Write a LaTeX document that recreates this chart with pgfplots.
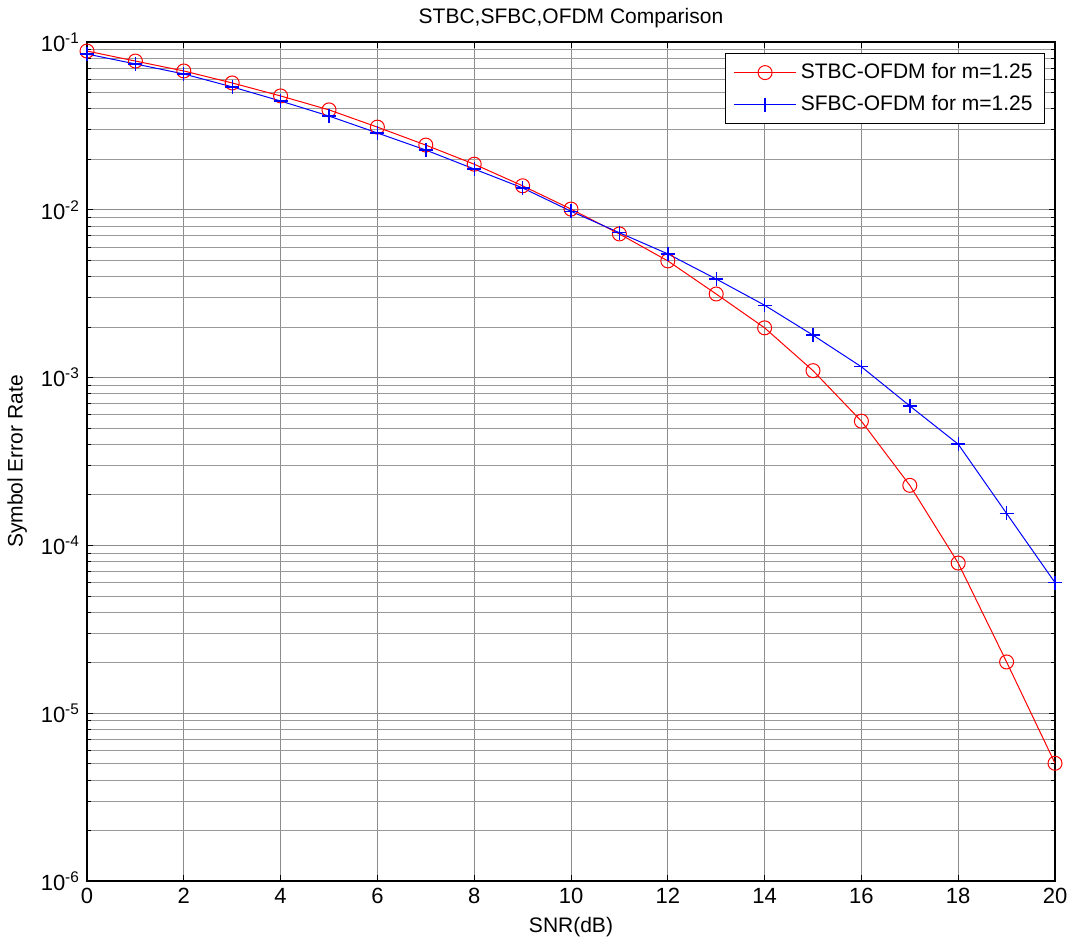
\documentclass[border=0pt]{standalone}
\usepackage{fontspec}
\setmainfont{Liberation Sans}
\usepackage{pgfplots}
\pgfplotsset{compat=1.18}
\begin{document}
\begin{tikzpicture}
\begin{axis}[
  scale only axis,
  width=484pt, height=419.5pt,
  xmin=0, xmax=20, ymin=1e-6, ymax=1e-1,
  ymode=log,
  xtick={0,2,...,20},
  minor x tick num=0,
  ytick={1e-6,1e-5,1e-4,1e-3,1e-2,1e-1},
  yticklabels={10\textsuperscript{-6},10\textsuperscript{-5},10\textsuperscript{-4},10\textsuperscript{-3},10\textsuperscript{-2},10\textsuperscript{-1}},
  /pgf/number format/assume math mode=true,
  tick label style={font=\fontsize{11}{12}\selectfont},
  label style={font=\fontsize{10.5}{12}\selectfont},
  title style={font=\fontsize{10.5}{12}\selectfont, yshift=-2.5pt},
  title={STBC,SFBC,OFDM Comparison},
  xlabel={SNR(dB)},
  ylabel={Symbol Error Rate},
  grid=both,
  major grid style={black!45, line width=0.4pt},
  minor grid style={black!40, line width=0.4pt},
  tick align=inside,
  major tick length=3pt,
  minor tick length=2pt,
  axis line style={black, line width=0.6pt},
  tick style={black, line width=0.4pt},
  legend style={at={(1,1)}, anchor=north east, xshift=-5pt, yshift=-5.5pt,
    font=\fontsize{10.5}{12}\selectfont, draw=black, line width=0.5pt,
    inner xsep=4pt, inner ysep=3pt, row sep=3pt},
  legend cell align=left,
  legend image code/.code={\draw[mark repeat=2,mark phase=2] plot coordinates {(0cm,0cm)(0.55cm,0cm)(1.1cm,0cm)};},
]
\addplot[red, line width=0.5pt, mark=o, mark size=3.5pt, mark options={draw=red, solid, line width=0.5pt}] coordinates {
(0,0.0883) (1,0.077) (2,0.0672) (3,0.057) (4,0.0477) (5,0.0394) (6,0.0311) (7,0.0243)
(8,0.0187) (9,0.0139) (10,0.0101) (11,0.00718) (12,0.00496) (13,0.00315) (14,0.00198)
(15,0.0011) (16,0.00055) (17,0.000228) (18,7.85e-5) (19,2.02e-5) (20,5.03e-6)
};
\addlegendentry{STBC-OFDM for m=1.25}
\addplot[blue, line width=0.5pt, mark=+, mark size=3.5pt, mark options={draw=blue, solid, line width=0.7pt}] coordinates {
(0,0.0848) (1,0.074) (2,0.0645) (3,0.054) (4,0.0445) (5,0.0362) (6,0.0287) (7,0.0227)
(8,0.0175) (9,0.0135) (10,0.0098) (11,0.0073) (12,0.00546) (13,0.00387) (14,0.0027)
(15,0.00179) (16,0.00116) (17,0.000678) (18,0.000401) (19,0.000155) (20,6.0e-5)
};
\addlegendentry{SFBC-OFDM for m=1.25}
\end{axis}
\pgfresetboundingbox
\path ([xshift=-43.5pt,yshift=-30pt]current axis.south west) rectangle ([xshift=8pt,yshift=21pt]current axis.north east);
\end{tikzpicture}
\end{document}
